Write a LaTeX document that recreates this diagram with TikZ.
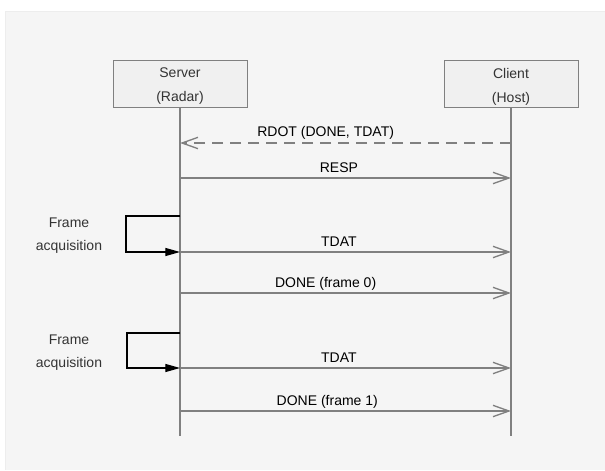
\documentclass[tikz,border=0pt]{standalone}
\usepackage{fontspec}
\setmainfont{Liberation Sans}
\usetikzlibrary{arrows.meta,shadows}

\definecolor{bggray}{HTML}{F5F5F5}
\definecolor{linegray}{HTML}{808080}
\definecolor{boxgray}{HTML}{F0F0F0}

\tikzstyle{actor}=[rectangle,
                   draw=linegray,
                   fill=boxgray,
                   drop shadow={shadow xshift=0.8pt,shadow yshift=-0.8pt,opacity=0.35},
                   minimum width=100.5pt,
                   minimum height=35.25pt]
\tikzstyle{actorname}=[align=center,
                       text=black!80,
                       font=\fontsize{10.5}{18}\selectfont]
\tikzstyle{lifeline}=[draw=linegray, line width=1.1pt]
\tikzstyle{msg}=[draw=linegray, line width=1pt,
                 -{Straight Barb[length=12pt,width=8.5pt]}]
\tikzstyle{reply}=[msg, dash pattern=on 8.25pt off 5.25pt]
\tikzstyle{selfloop}=[draw=black, line width=0.9pt,
                      -{Triangle[length=11pt,width=6pt]}]
\tikzstyle{msglabel}=[anchor=base, yshift=4.5pt, inner sep=0pt,
                      text=black, font=\fontsize{10.5}{12}\selectfont]
\tikzstyle{note}=[align=center, text=black!80,
                  font=\fontsize{10.5}{17.25}\selectfont]

\begin{document}
\begin{tikzpicture}[x=0.75pt,y=-0.75pt]
  % Page size and grey backdrop:
  \useasboundingbox (0,0) rectangle (605,470);
  \fill[bggray] (5,11) rectangle (605,470);
  \draw[black!7] (5,470) -- (5,11) -- (605,11);

  % The two parties and their lifelines:
  \node (srv) [actor] at (180,83.5) {};
  \node (cli) [actor] at (511,83.5) {};
  \node (srvname) [actorname] at (180,86.5) {Server\\(Radar)};
  \node (cliname) [actorname] at (511,86.5) {Client\\(Host)};
  \coordinate (srvend) at (180,436);
  \coordinate (cliend) at (511,436);
  \path[lifeline]
      (srv.south) edge (srvend)
      (cli.south) edge (cliend);

  % Points on the lifelines where the messages start and end:
  \foreach \id/\y in {rdot/143,resp/178,tdat0/252,done0/293,tdat1/368,done1/411} {
      \coordinate (s-\id) at (180,\y);
      \coordinate (c-\id) at (511,\y);
  }
  \coordinate (fa0) at (180,216);
  \coordinate (fa1) at (180,333);

  % Messages between server and client:
  \path
      (c-rdot) edge[reply] node[msglabel,pos=.56] {RDOT (DONE, TDAT)} (s-rdot)
      (s-resp) edge[msg] node[msglabel,pos=.48] {RESP} (c-resp)
      (s-tdat0) edge[msg] node[msglabel,pos=.48] {TDAT} (c-tdat0)
      (s-done0) edge[msg] node[msglabel,pos=.44] {DONE (frame 0)} (c-done0)
      (s-tdat1) edge[msg] node[msglabel,pos=.48] {TDAT} (c-tdat1)
      (s-done1) edge[msg] node[msglabel,pos=.445] {DONE (frame 1)} (c-done1);

  % Frame acquisition on the server side:
  \draw[selfloop] (fa0) -- ++(-54,0) |- (s-tdat0);
  \draw[selfloop] (fa1) -- ++(-53,0) |- (s-tdat1);
  \node (acq0) [note] at (69,236) {Frame\\acquisition};
  \node (acq1) [note] at (69,353) {Frame\\acquisition};
\end{tikzpicture}
\end{document}
